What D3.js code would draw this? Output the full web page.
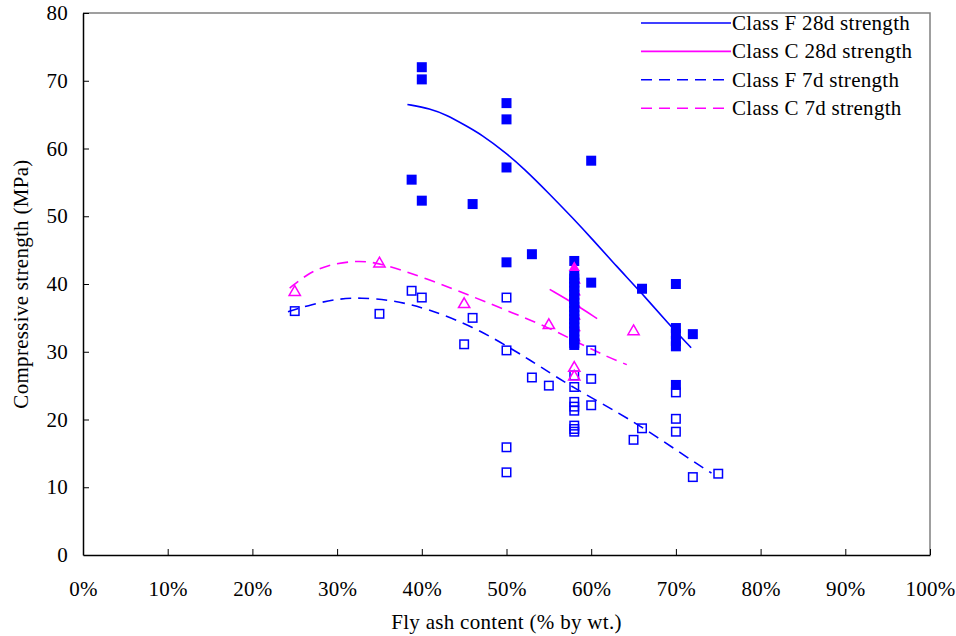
<!DOCTYPE html>
<html>
<head>
<meta charset="utf-8">
<script src="https://cdn.jsdelivr.net/npm/d3@7"></script>
<style>
  body { margin: 0; background: #fff; }
  text { font-family: "Liberation Serif", "Times New Roman", serif; letter-spacing: 0.3px; }
</style>
</head>
<body>
<div id="chart"></div>
<script>
// Fly ash content (%) vs compressive strength (MPa)
const xTicks = [0, 10, 20, 30, 40, 50, 60, 70, 80, 90, 100];
const yTicks = [0, 10, 20, 30, 40, 50, 60, 70, 80];

// Class F 28d - filled blue squares
const f28Points = [
    [40, 72.0], [40, 70.2], [38.8, 55.4], [40, 52.3], [46, 51.8],
    [50, 66.7], [50, 64.3], [50, 57.2], [50, 43.2], [53, 44.4],
    [60, 58.2], [60, 40.2], [58, 43.4],
    [58, 41.3], [58, 40.8], [58, 40.2], [58, 39.6], [58, 39.0], [58, 38.4],
    [58, 37.8], [58, 37.2], [58, 36.6], [58, 36.0], [58, 35.4], [58, 34.8],
    [58, 34.2], [58, 33.6], [58, 33.0], [58, 32.4], [58, 31.8], [58, 31.3], [58, 31.0],
    [66, 39.3], [70, 40.0], [70, 33.5], [70, 32.6], [70, 31.6], [70, 30.8],
    [70, 25.1], [72, 32.6]
];

// Class C 28d - filled magenta triangles (mostly hidden behind the 58% column)
const c28Points = [
    [58, 40.5], [58, 38.8], [58, 37.0], [58, 35.2], [58, 33.5], [58, 32.0]
];
const c28Top = [[58, 42.4]];

// Class F 7d - open blue squares
const f7Points = [
    [25, 36.0], [35, 35.6], [38.8, 39.0], [40, 38.0], [45, 31.1], [46, 35.0],
    [50, 38.0], [50, 30.2], [50, 15.9], [50, 12.2], [53, 26.2], [55, 25.0],
    [58, 26.5], [58, 24.8], [58, 22.6], [58, 21.9], [58, 21.3],
    [58, 19.1], [58, 18.6], [58, 18.2],
    [60, 30.2], [60, 26.0], [60, 22.1], [65, 17.0], [66, 18.7],
    [70, 24.0], [70, 20.1], [70, 18.2], [72, 11.5], [75, 12.0]
];

// Class C 7d - open magenta triangles
const c7Points = [
    [25, 38.8], [35, 43.0], [45, 37.0], [55, 33.9], [58, 27.6], [58, 26.3], [65, 33.0]
];

// trend lines
const f28Trend = [
    [38.3, 66.5], [41, 65.9], [43, 64.9], [45, 63.5], [47, 62.1], [50, 59.3],
    [52, 57.1], [55, 53.4], [58, 49.5], [60, 46.8], [63, 42.6], [66, 38.6],
    [69, 34.3], [71.8, 30.6]
];
const c28Trend = [[55.1, 39.2], [58, 37.1], [60.7, 34.9]];
const f7Trend = [
    [24.2, 35.9], [27, 37.0], [30, 37.8], [32.7, 38.0], [36.6, 37.6], [40.6, 36.4],
    [46.1, 33.7], [50.8, 30.3], [54, 27.8], [58, 24.6], [63.4, 20.9], [67.7, 17.5],
    [72.4, 13.5], [74.2, 12.1]
];
const c7Trend = [
    [24.4, 39.4], [26.5, 41.5], [28.8, 42.8], [32.3, 43.5], [35.1, 43.1], [40.6, 40.8],
    [46.1, 38.1], [50.8, 35.7], [55.1, 33.5], [59, 31.0], [62, 29.2], [64.2, 28.1]
];

const legendItems = [
    { name: "Class F 28d strength", color: "#0000ff", dash: null },
    { name: "Class C 28d strength", color: "#ff00ff", dash: null },
    { name: "Class F 7d strength", color: "#0000ff", dash: "11,7" },
    { name: "Class C 7d strength", color: "#ff00ff", dash: "11,7" }
];

const width = 956, height = 636;
const margin = { top: 13, right: 26, bottom: 81, left: 83 };
const w = width - margin.left - margin.right;
const h = height - margin.top - margin.bottom;
const fontSize = 21;

const svg = d3.select("#chart").append("svg")
    .attr("width", width)
    .attr("height", height);

const g = svg.append("g").attr("transform", `translate(${margin.left},${margin.top})`);

const x = d3.scaleLinear().domain([0, 100]).range([0, w]);
const y = d3.scaleLinear().domain([0, 80]).range([h, 0]);

// frame: gray top/right
g.append("path")
    .attr("d", `M0,0H${w}V${h}`)
    .attr("fill", "none")
    .attr("stroke", "#808080")
    .attr("stroke-width", 1.5);

// axes with inward ticks
const xAxis = g.append("g")
    .attr("transform", `translate(0,${h})`)
    .call(d3.axisBottom(x).tickValues(xTicks).tickSizeInner(-6).tickSizeOuter(0).tickPadding(26)
        .tickFormat(d => d + "%"));
const yAxis = g.append("g")
    .call(d3.axisLeft(y).tickValues(yTicks).tickSizeInner(-6).tickSizeOuter(0).tickPadding(15));

[xAxis, yAxis].forEach(a => {
    a.select(".domain").attr("stroke", "#000").attr("stroke-width", 1.5);
    a.selectAll(".tick line").attr("stroke", "#000").attr("stroke-width", 1);
    a.selectAll(".tick text")
        .attr("font-family", "Liberation Serif, Times New Roman, serif")
        .attr("font-size", fontSize)
        .attr("fill", "#000");
});
xAxis.selectAll(".tick text").attr("dy", "0.71em");
xAxis.selectAll(".tick").filter(d => d === 0).select("line").remove();
yAxis.selectAll(".tick").filter(d => d === 0).select("line").remove();

// axis titles
svg.append("text")
    .attr("x", margin.left + w / 2)
    .attr("y", 629)
    .attr("text-anchor", "middle")
    .attr("font-size", fontSize)
    .text("Fly ash content (% by wt.)");

svg.append("text")
    .attr("transform", `translate(28,${margin.top + h / 2}) rotate(-90)`)
    .attr("text-anchor", "middle")
    .attr("font-size", fontSize)
    .text("Compressive strength (MPa)");

// trend lines
const line = d3.line()
    .x(d => x(d[0]))
    .y(d => y(d[1]))
    .curve(d3.curveBasis);

const trends = [
    { data: f28Trend, color: "#0000ff", dash: null },
    { data: c28Trend, color: "#ff00ff", dash: null },
    { data: f7Trend, color: "#0000ff", dash: "11,7" },
    { data: c7Trend, color: "#ff00ff", dash: "11,7" }
];
trends.forEach(t => {
    g.append("path")
        .datum(t.data)
        .attr("d", line)
        .attr("fill", "none")
        .attr("stroke", t.color)
        .attr("stroke-width", 1.6)
        .attr("stroke-dasharray", t.dash);
});

// markers
const sq = 10;
const tri = d3.symbol().type(d3.symbolTriangle).size(55);

g.selectAll(".c28")
    .data(c28Points)
    .enter()
    .append("path")
    .attr("class", "c28")
    .attr("transform", d => `translate(${x(d[0]) + 1},${y(d[1])})`)
    .attr("d", tri)
    .attr("fill", "#ff00ff");

g.selectAll(".f28")
    .data(f28Points)
    .enter()
    .append("rect")
    .attr("class", "f28")
    .attr("x", d => x(d[0]) - sq / 2)
    .attr("y", d => y(d[1]) - sq / 2)
    .attr("width", sq)
    .attr("height", sq)
    .attr("fill", "#0000ff");

g.selectAll(".c28top")
    .data(c28Top)
    .enter()
    .append("path")
    .attr("class", "c28top")
    .attr("transform", d => `translate(${x(d[0])},${y(d[1])})`)
    .attr("d", tri)
    .attr("fill", "#ff00ff");

g.selectAll(".f7")
    .data(f7Points)
    .enter()
    .append("rect")
    .attr("class", "f7")
    .attr("x", d => x(d[0]) - sq / 2 + 0.75)
    .attr("y", d => y(d[1]) - sq / 2 + 0.75)
    .attr("width", sq - 1.5)
    .attr("height", sq - 1.5)
    .attr("fill", "none")
    .attr("stroke", "#0000ff")
    .attr("stroke-width", 1.5);

g.selectAll(".c7")
    .data(c7Points)
    .enter()
    .append("path")
    .attr("class", "c7")
    .attr("transform", d => `translate(${x(d[0])},${y(d[1])})`)
    .attr("d", tri)
    .attr("fill", "none")
    .attr("stroke", "#ff00ff")
    .attr("stroke-width", 1.5);

// legend
const legend = svg.append("g").attr("transform", "translate(641,23)");
legendItems.forEach((d, i) => {
    legend.append("line")
        .attr("x1", 0)
        .attr("x2", 90)
        .attr("y1", i * 28.4)
        .attr("y2", i * 28.4)
        .attr("stroke", d.color)
        .attr("stroke-width", 1.6)
        .attr("stroke-dasharray", d.dash);
    legend.append("text")
        .attr("x", 91)
        .attr("y", i * 28.4 + 7)
        .attr("font-size", fontSize)
        .attr("fill", "#000")
        .text(d.name);
});
</script>
</body>
</html>
